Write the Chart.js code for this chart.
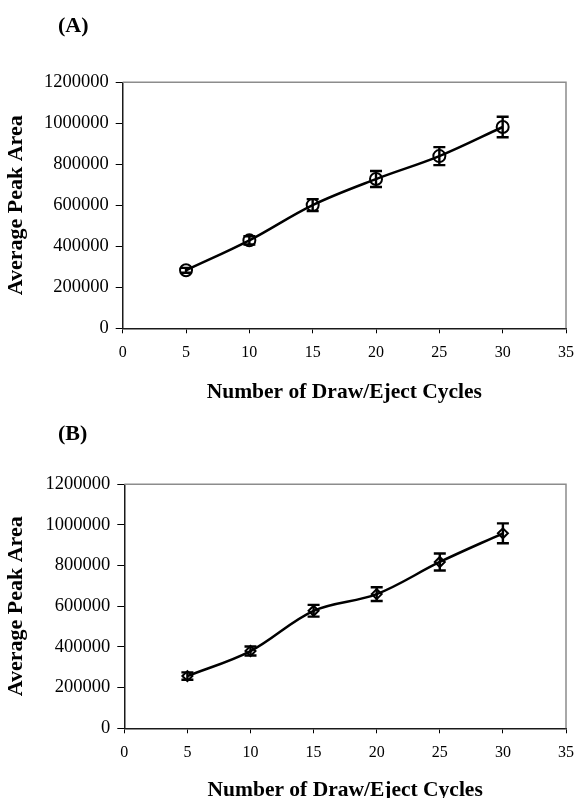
<!DOCTYPE html>
<html>
<head>
<meta charset="utf-8">
<script src="https://cdn.jsdelivr.net/npm/chart.js@4/dist/chart.umd.min.js"></script>
<style>
  html, body { margin: 0; padding: 0; background: #fff; overflow: hidden; }
  #wrap { position: relative; width: 584px; height: 798px; }
  canvas { position: absolute; left: 0; }
  #cA { top: 0; }
  #cB { top: 400px; }
</style>
</head>
<body>
<div id="wrap">
  <canvas id="cA" width="584" height="412"></canvas>
  <canvas id="cB" width="584" height="400"></canvas>
</div>
<script>
// ---- data ----
const cycles = [5, 10, 15, 20, 25, 30];
const peakAreaA = [283000, 429000, 601000, 728000, 840000, 982000];
const errorA    = [12000, 20000, 29000, 39000, 44000, 50000];
const peakAreaB = [257000, 380000, 578000, 660000, 818000, 959000];
const errorB    = [18000, 22000, 29000, 34000, 42000, 49000];
const xTickValues = [0, 5, 10, 15, 20, 25, 30, 35];
const yTickValues = [0, 200000, 400000, 600000, 800000, 1000000, 1200000];
const panelLabels = ['(A)', '(B)'];
const xAxisTitle = 'Number of Draw/Eject Cycles';
const yAxisTitle = 'Average Peak Area';

const SERIF = "'Liberation Serif', 'Times New Roman', serif";

const errorBarPlugin = {
  id: 'errorBars',
  afterDatasetsDraw(chart, args, opts) {
    const ctx = chart.ctx;
    const xs = chart.scales.x, ys = chart.scales.y;
    const ds = chart.data.datasets[0];
    const errs = opts.errors || [];
    ctx.save();
    ctx.strokeStyle = '#000';
    ctx.lineWidth = 2.4;
    ds.data.forEach((p, i) => {
      const e = errs[i];
      if (!e) return;
      const px = xs.getPixelForValue(p.x);
      const y1 = ys.getPixelForValue(p.y + e);
      const y2 = ys.getPixelForValue(p.y - e);
      const cw = 6;
      ctx.beginPath();
      ctx.moveTo(px, y1); ctx.lineTo(px, y2);
      ctx.moveTo(px - cw, y1); ctx.lineTo(px + cw, y1);
      ctx.moveTo(px - cw, y2); ctx.lineTo(px + cw, y2);
      ctx.stroke();
    });
    ctx.restore();
  }
};

const framePlugin = {
  id: 'frame',
  beforeDatasetsDraw(chart) {
    const {ctx, chartArea: a} = chart;
    ctx.save();
    ctx.strokeStyle = '#8c8c8c';
    ctx.lineWidth = 1.5;
    ctx.beginPath();
    ctx.moveTo(a.left, a.top); ctx.lineTo(a.right, a.top); ctx.lineTo(a.right, a.bottom);
    ctx.stroke();
    ctx.restore();
  }
};

const panelLabelPlugin = {
  id: 'panelLabel',
  afterDraw(chart, args, opts) {
    const ctx = chart.ctx;
    ctx.save();
    ctx.fillStyle = '#000';
    ctx.font = "bold 22px " + SERIF;
    ctx.textBaseline = 'alphabetic';
    ctx.textAlign = 'left';
    ctx.fillText(opts.text, opts.x, opts.y);
    ctx.restore();
  }
};

function makeChart(id, values, errors, cfg) {
  const points = cycles.map((c, i) => ({x: c, y: values[i]}));
  return new Chart(document.getElementById(id), {
    type: 'line',
    data: {
      datasets: [{
        data: points,
        borderColor: '#000',
        borderWidth: 2.5,
        tension: 0.35,
        fill: false,
        pointStyle: cfg.pointStyle,
        pointRadius: cfg.pointRadius,
        pointBorderWidth: 2,
        pointBorderColor: '#000',
        pointBackgroundColor: 'rgba(255,255,255,0)'
      }]
    },
    options: {
      responsive: false,
      animation: false,
      devicePixelRatio: 1,
      layout: { padding: cfg.padding },
      plugins: {
        legend: { display: false },
        tooltip: { enabled: false },
        title: { display: false },
        errorBars: { errors: errors },
        panelLabel: { text: cfg.label, x: 58, y: cfg.labelY }
      },
      scales: {
        x: {
          type: 'linear',
          min: xTickValues[0], max: xTickValues[xTickValues.length - 1],
          afterBuildTicks: s => { s.ticks = xTickValues.map(v => ({value: v})); },
          afterFit: s => { s.height = cfg.xHeight; },
          ticks: { color: '#000', font: { family: SERIF, size: 16, lineHeight: 1.2 }, padding: 10, maxRotation: 0 },
          grid: { display: true, drawOnChartArea: false, drawTicks: true, tickLength: 5, color: '#000', lineWidth: 1 },
          border: { display: true, color: '#1a1a1a', width: 1.5 },
          title: { display: true, text: xAxisTitle, color: '#000',
                   font: { family: SERIF, size: 21.5, weight: 'bold', lineHeight: 1 },
                   padding: { top: 0, bottom: cfg.xTitlePad } }
        },
        y: {
          type: 'linear',
          min: yTickValues[0], max: yTickValues[yTickValues.length - 1],
          afterBuildTicks: s => { s.ticks = yTickValues.map(v => ({value: v})); },
          afterFit: s => { s.width = cfg.yWidth; },
          ticks: { color: '#000', font: { family: SERIF, size: 18.5 }, padding: 7, callback: v => String(v) },
          grid: { display: true, drawOnChartArea: false, drawTicks: true, tickLength: 7, color: '#000', lineWidth: 1 },
          border: { display: true, color: '#1a1a1a', width: 1.5 },
          title: { display: true, text: yAxisTitle, color: '#000',
                   font: { family: SERIF, size: 22, weight: 'bold', lineHeight: 1 },
                   padding: { top: 5, bottom: 0 } }
        }
      }
    },
    plugins: [framePlugin, errorBarPlugin, panelLabelPlugin]
  });
}

makeChart('cA', peakAreaA, errorA, {
  label: panelLabels[0], labelY: 32,
  pointStyle: 'circle', pointRadius: 6,
  padding: { top: 82.3, right: 14.7, left: 0, bottom: 12 },
  xHeight: 71.7, yWidth: 122.7, xTitlePad: -3
});
makeChart('cB', peakAreaB, errorB, {
  label: panelLabels[1], labelY: 40,
  pointStyle: 'rectRot', pointRadius: 5,
  padding: { top: 84.3, right: 8, left: 0, bottom: 0 },
  xHeight: 71.7, yWidth: 124.3, xTitlePad: -1
});
</script>
</body>
</html>
